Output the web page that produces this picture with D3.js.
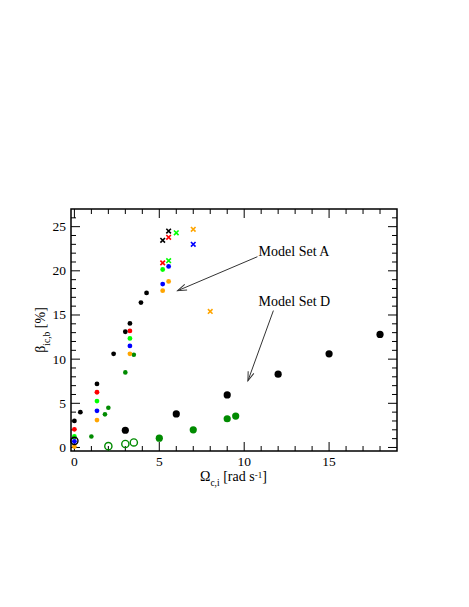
<!DOCTYPE html>
<html>
<head>
<meta charset="utf-8">
<script src="https://cdn.jsdelivr.net/npm/d3@7"></script>
<style>
  body { margin: 0; background: #fff; }
  text { font-family: "Liberation Serif", "Times New Roman", serif; }
</style>
</head>
<body>
<script>
// small filled dots, one array per colour: [omega, beta]
const blackDots = [[0, 3.0], [0.35, 4.0], [1.33, 7.2], [2.31, 10.6], [3.0, 13.1], [3.27, 14.05], [3.92, 16.4], [4.25, 17.5]];
const redDots = [[0, 2.05], [1.33, 6.25], [3.27, 13.2]];
const greenDots = [[0, 1.25], [1.33, 5.25], [3.27, 12.35], [5.2, 20.15]];
const blueDots = [[0, 0.7], [1.33, 4.15], [3.27, 11.5], [5.2, 18.5], [5.55, 20.5]];
const orangeDots = [[0, 0.1], [1.33, 3.1], [3.27, 10.6], [5.2, 17.75], [5.55, 18.8]];
const darkGreenDots = [[1.0, 1.25], [1.8, 3.75], [2.0, 4.5], [3.0, 8.5], [3.5, 10.5]];

// cross markers
const blackCross = [[5.2, 23.45], [5.55, 24.5]];
const redCross = [[5.2, 20.9], [5.55, 23.8]];
const greenCross = [[5.55, 21.15], [6.0, 24.3]];
const blueCross = [[7.0, 23.0]];
const orangeCross = [[7.0, 24.7], [8.0, 15.4]];

// Model Set D: large dots and open circles
const blackBig = [[3.0, 1.95], [6.0, 3.8], [9.0, 5.95], [12.0, 8.3], [15.0, 10.6], [18.0, 12.8]];
const darkGreenBig = [[5.0, 1.05], [7.0, 2.0], [9.0, 3.25], [9.5, 3.55]];
const darkGreenOpen = [[2.0, 0.15], [3.0, 0.4], [3.5, 0.57]];
const blackOpen = [[0, 0.75]];

const xTicks = [0, 5, 10, 15];
const yTicks = [0, 5, 10, 15, 20, 25];

// annotations: label position and arrow [from, to] in data units
const notes = [
    {label: "Model Set A", at: [10.85, 21.7], arrow: [[10.78, 21.6], [6.08, 17.75]]},
    {label: "Model Set D", at: [10.85, 16.05], arrow: [[11.72, 15.5], [10.22, 7.55]]}
];

const width = 469, height = 607;
const margin = {top: 209, right: 72, bottom: 156, left: 71};

let xScale = d3.scaleLinear().domain([-0.2, 19]).range([margin.left, width - margin.right]);
let yScale = d3.scaleLinear().domain([-0.4, 27]).range([height - margin.bottom, margin.top]);

let svg = d3.select("body")
    .append("svg")
    .attr("width", width)
    .attr("height", height);

const x0 = xScale.range()[0], x1 = xScale.range()[1];
const y0 = yScale.range()[0], y1 = yScale.range()[1];

// ticks on all four sides, pointing inward
const minorX = d3.range(0, 19, 1), minorY = d3.range(0, 27, 1);
const tickG = svg.append("g").attr("stroke", "#000").attr("stroke-width", 1);
minorX.forEach(v => {
    const len = v % 5 === 0 ? 9 : 5;
    const px = xScale(v);
    tickG.append("line").attr("x1", px).attr("x2", px).attr("y1", y0).attr("y2", y0 - len);
    tickG.append("line").attr("x1", px).attr("x2", px).attr("y1", y1).attr("y2", y1 + len);
});
minorY.forEach(v => {
    const len = v % 5 === 0 ? 9 : 5;
    const py = yScale(v);
    tickG.append("line").attr("y1", py).attr("y2", py).attr("x1", x0).attr("x2", x0 + len);
    tickG.append("line").attr("y1", py).attr("y2", py).attr("x1", x1).attr("x2", x1 - len);
});

svg.append("rect")
    .attr("x", x0).attr("y", y1)
    .attr("width", x1 - x0).attr("height", y0 - y1)
    .attr("fill", "none").attr("stroke", "#000").attr("stroke-width", 1.5);

// tick labels
svg.selectAll(".xl").data(xTicks).enter().append("text")
    .attr("x", d => xScale(d)).attr("y", y0 + 15)
    .attr("text-anchor", "middle").attr("font-size", 13.5)
    .text(d => d);
svg.selectAll(".yl").data(yTicks).enter().append("text")
    .attr("x", x0 - 5).attr("y", d => yScale(d) + 4.5)
    .attr("text-anchor", "end").attr("font-size", 13.5)
    .text(d => d);

// axis titles
const xt = svg.append("text").attr("x", 200).attr("y", 481).attr("font-size", 14);
xt.append("tspan").text("\u03A9");
xt.append("tspan").attr("font-size", 9.5).attr("dy", 5).text("c,i");
xt.append("tspan").attr("dy", -5).text(" [rad s");
xt.append("tspan").attr("font-size", 9).attr("dy", -3.5).text("-1");
xt.append("tspan").attr("dy", 3.5).text("]");

const yt = svg.append("text")
    .attr("transform", "translate(45," + ((y0 + y1) / 2) + ") rotate(-90)")
    .attr("text-anchor", "middle").attr("font-size", 14);
yt.append("tspan").text("\u03B2");
yt.append("tspan").attr("font-size", 9.5).attr("dy", 5).text("ic,b");
yt.append("tspan").attr("dy", -5).text(" [%]");

// markers
const plot = svg.append("g");
function dots(data, color, r) {
    plot.selectAll(null).data(data).enter().append("circle")
        .attr("cx", d => xScale(d[0])).attr("cy", d => yScale(d[1]))
        .attr("r", r).attr("fill", color);
}
function rings(data, color) {
    plot.selectAll(null).data(data).enter().append("circle")
        .attr("cx", d => xScale(d[0])).attr("cy", d => yScale(d[1]))
        .attr("r", 3.6).attr("fill", "none").attr("stroke", color).attr("stroke-width", 1.4);
}
function crosses(data, color) {
    const s = 2.3;
    plot.selectAll(null).data(data).enter().append("path")
        .attr("d", d => {
            const px = xScale(d[0]), py = yScale(d[1]);
            return `M${px - s},${py - s}L${px + s},${py + s}M${px - s},${py + s}L${px + s},${py - s}`;
        })
        .attr("stroke", color).attr("stroke-width", 1.6).attr("fill", "none");
}

const darkGreen = "#008b00";
rings(darkGreenOpen, darkGreen);
dots(blackBig, "#000", 3.6);
dots(darkGreenBig, darkGreen, 3.6);
dots(darkGreenDots, darkGreen, 2.3);
dots(orangeDots, "#ffa500", 2.4);
dots(greenDots, "#00ff00", 2.4);
dots(redDots, "#ff0000", 2.4);
dots(blackDots, "#000", 2.4);
rings(blackOpen, "#000");
dots(blueDots, "#0000ff", 2.4);
crosses(blackCross, "#000");
crosses(redCross, "#ff0000");
crosses(greenCross, "#00ff00");
crosses(blueCross, "#0000ff");
crosses(orangeCross, "#ffa500");

// annotations
svg.append("defs").append("marker")
    .attr("id", "head").attr("viewBox", "-10 -5 12 10")
    .attr("refX", 0).attr("refY", 0)
    .attr("markerWidth", 12).attr("markerHeight", 10)
    .attr("markerUnits", "userSpaceOnUse")
    .attr("orient", "auto")
    .append("path").attr("d", "M-9,-3L0,0L-9,3")
    .attr("fill", "none").attr("stroke", "#333").attr("stroke-width", 1);

notes.forEach(n => {
    svg.append("line")
        .attr("x1", xScale(n.arrow[0][0])).attr("y1", yScale(n.arrow[0][1]))
        .attr("x2", xScale(n.arrow[1][0])).attr("y2", yScale(n.arrow[1][1]))
        .attr("stroke", "#333").attr("stroke-width", 1)
        .attr("marker-end", "url(#head)");
    svg.append("text")
        .attr("x", xScale(n.at[0])).attr("y", yScale(n.at[1]))
        .attr("font-size", 14)
        .text(n.label);
});
</script>
</body>
</html>
